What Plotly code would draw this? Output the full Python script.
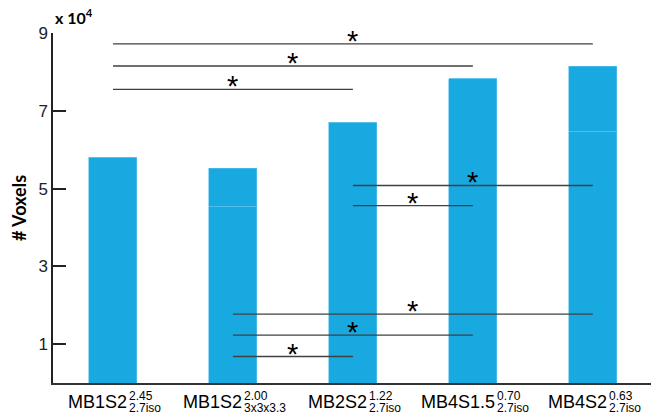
import plotly.graph_objects as go

# Voxel counts (x 10^4) per acquisition protocol
names = ["MB1S2", "MB1S2", "MB2S2", "MB4S1.5", "MB4S2"]
sup_labels = ["2.45", "2.00", "1.22", "0.70", "0.63"]
sub_labels = ["2.7iso", "3x3x3.3", "2.7iso", "2.7iso", "2.7iso"]
voxels = [5.80, 5.52, 6.70, 7.83, 8.14]
# lower block of the two-part bars (None = single block)
lower_block = [None, 4.55, None, None, 6.48]

# significance brackets: (from bar, to bar, height)
brackets = [
    (0, 4, 8.72),
    (0, 3, 8.15),
    (0, 2, 7.55),
    (2, 4, 5.08),
    (2, 3, 4.56),
    (1, 4, 1.77),
    (1, 3, 1.23),
    (1, 2, 0.68),
]

y_ticks = [1, 3, 5, 7, 9]

BLUE = "#19a9e1"
EDGE = "#5cc3ec"
FONT = "Liberation Sans"

x = list(range(len(names)))
low = [lb if lb is not None else v for lb, v in zip(lower_block, voxels)]
up = [v - l for v, l in zip(voxels, low)]

fig = go.Figure()
fig.add_trace(go.Bar(x=x, y=low, width=0.4, marker=dict(color=BLUE, line=dict(color=EDGE, width=0.6)),
                     showlegend=False, hoverinfo="skip"))
fig.add_trace(go.Bar(x=x, y=up, width=0.4, marker=dict(color=BLUE, line=dict(color=EDGE, width=0.6)),
                     showlegend=False, hoverinfo="skip"))

shapes = []
annotations = []
for a, b, h in brackets:
    shapes.append(dict(type="line", xref="x", yref="y", x0=a, x1=b, y0=h, y1=h,
                       line=dict(color="#404040", width=1.4)))
    annotations.append(dict(x=(a + b) / 2, y=h, xref="x", yref="y", text="*", showarrow=False,
                            xanchor="center", yanchor="middle", yshift=3,
                            font=dict(family=FONT, size=29, color="black")))

# Arial advance widths (per 1000 em) for tick label layout
AW = {"M": 833, "B": 667, "S": 667, "x": 500, "i": 222, "s": 500, "o": 556, ".": 278}


def text_w(s, size):
    return sum(AW.get(c, 556) for c in s) * size / 1000.0


MAIN_FS, SMALL_FS = 18, 12
for i, (n, sp, sb) in enumerate(zip(names, sup_labels, sub_labels)):
    wm = text_w(n, MAIN_FS)
    ws = max(text_w(sp, SMALL_FS), text_w(sb, SMALL_FS))
    total = wm + 2 + ws
    left = -total / 2
    annotations.append(dict(x=i, y=0, xref="x", yref="y", text=n, showarrow=False,
                            xanchor="left", yanchor="middle", xshift=left, yshift=-19,
                            font=dict(family=FONT, size=MAIN_FS, color="black")))
    annotations.append(dict(x=i, y=0, xref="x", yref="y", text=sp, showarrow=False,
                            xanchor="left", yanchor="middle", xshift=left + wm + 2, yshift=-13,
                            font=dict(family=FONT, size=SMALL_FS, color="black")))
    annotations.append(dict(x=i, y=0, xref="x", yref="y", text=sb, showarrow=False,
                            xanchor="left", yanchor="middle", xshift=left + wm + 2, yshift=-25,
                            font=dict(family=FONT, size=SMALL_FS, color="black")))

annotations.append(dict(x=0, y=1, xref="paper", yref="paper", text="<b>x 10<sup>4</sup></b>",
                        showarrow=False, xanchor="left", yanchor="bottom", xshift=0, yshift=4,
                        font=dict(family="Lato", size=16, color="black")))

fig.update_layout(
    width=651, height=420,
    margin=dict(l=53, r=0, t=33, b=37),
    paper_bgcolor="white", plot_bgcolor="white",
    barmode="stack", bargap=0.6,
    shapes=shapes, annotations=annotations,
    xaxis=dict(range=[-0.5, 4.485], showticklabels=False, ticks="", showgrid=False, zeroline=False,
               showline=True, linecolor="#333", linewidth=1.5),
    yaxis=dict(range=[0, 9], tickvals=y_ticks, ticks="inside", ticklen=13, tickwidth=1.5,
               tickcolor="#222", showgrid=False, zeroline=False, showline=True, linecolor="#222",
               linewidth=1.5, tickfont=dict(family=FONT, size=17, color="#222"),
               title=dict(text="<b># Voxels</b>", font=dict(family="Lato", size=18, color="black"),
                          standoff=7)),
)

fig.write_html("out.html")
